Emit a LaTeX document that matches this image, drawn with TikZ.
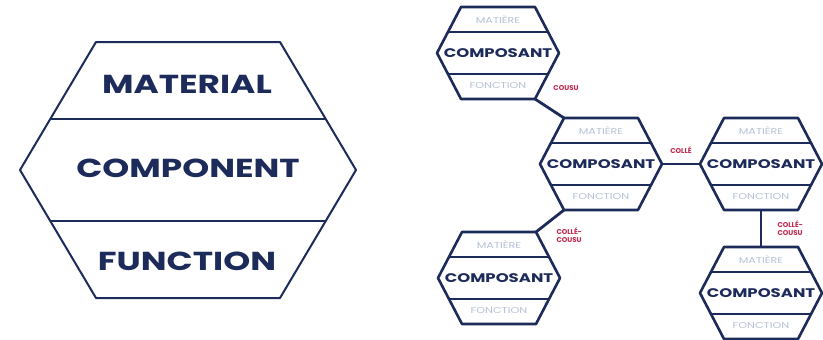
\documentclass[tikz,border=0pt]{standalone}
\usepackage{xcolor}
\usepackage{fontspec}
\setmainfont{Poppins}
\newfontfamily\widesans[FakeStretch=1.32]{Poppins}

\definecolor{navy}{HTML}{1D2B5A}
\definecolor{pale}{HTML}{B7C2D6}
\definecolor{joinred}{HTML}{C2264B}

\tikzset{
  bigline/.style={draw=navy, line width=2pt, line join=round},
  hexline/.style={draw=navy, line width=2.6pt, line join=round},
  joinline/.style={draw=navy, line width=2.8pt},
  bigtext/.style={text=navy, font=\widesans\bfseries\fontsize{26}{26}\selectfont},
  comptext/.style={text=navy, font=\widesans\bfseries\fontsize{12.5}{13}\selectfont},
  paletext/.style={text=pale, font=\widesans\fontsize{8.5}{8.5}\selectfont},
  jointext/.style={text=joinred, font=\bfseries\fontsize{7}{7.5}\selectfont, align=left},
}

% one small component hexagon: name, x, y
\newcommand{\composant}[3]{%
  \begin{scope}[shift={(#2,#3)}]
    \coordinate (#1-l) at (-61,0);
    \coordinate (#1-r) at (61,0);
    \coordinate (#1-tl) at (-37,-46);
    \coordinate (#1-tr) at (37,-46);
    \coordinate (#1-bl) at (-37,46);
    \coordinate (#1-br) at (37,46);
    \coordinate (#1-t) at (0,-46);
    \coordinate (#1-b) at (0,46);
    \draw[hexline] (#1-l) -- (#1-tl) -- (#1-tr) -- (#1-r) -- (#1-br) -- (#1-bl) -- cycle;
    \draw[hexline] (-50,-21) -- (50,-21);
    \draw[hexline] (-50,21) -- (50,21);
    \node[paletext] (#1-mat) at (0,-33) {MATIÈRE};
    \node[comptext] (#1-comp) at (0,0) {COMPOSANT};
    \node[paletext] (#1-fn) at (0,33) {FONCTION};
  \end{scope}}

\begin{document}
\begin{tikzpicture}[x=1pt, y=-1pt]
  \fill[white] (0,0) rectangle (823,340);
  \useasboundingbox (0,0) rectangle (823,340);

  % the big hexagon
  \coordinate (L) at (20,170);
  \coordinate (TL) at (96,42);
  \coordinate (TR) at (280,42);
  \coordinate (R) at (356,170);
  \coordinate (BR) at (280,298);
  \coordinate (BL) at (96,298);
  \draw[bigline] (L) -- (TL) -- (TR) -- (R) -- (BR) -- (BL) -- cycle;
  \draw[bigline] (50,119) -- (326,119);
  \draw[bigline] (50,221) -- (326,221);
  \node[bigtext] (material) at (187,84) {MATERIAL};
  \node[bigtext] (component) at (188,168) {COMPONENT};
  \node[bigtext] (function) at (187,261) {FUNCTION};

  % the assembly
  \composant{tl}{498}{53}
  \composant{mid}{601}{164}
  \composant{rt}{761}{164}
  \composant{bl}{499}{278}
  \composant{br}{761}{293}

  \draw[joinline] (tl-br) -- (mid-tl);
  \draw[joinline] (mid-r) -- (rt-l);
  \draw[joinline] (mid-bl) -- (bl-tr);
  \draw[joinline] (rt-b) -- (br-t);

  \node[jointext] (cousu) at (566,88) {COUSU};
  \node[jointext] (colle) at (681,150) {COLLÉ};
  \node[jointext, anchor=west] (collecousu1) at (553,235) {COLLÉ-\\COUSU};
  \node[jointext, anchor=west] (collecousu2) at (774,228) {COLLÉ-\\COUSU};
\end{tikzpicture}
\end{document}
